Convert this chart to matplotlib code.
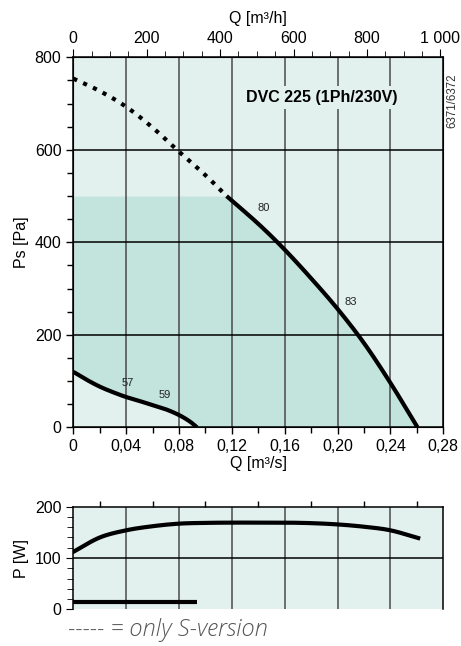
import numpy as np
import matplotlib.pyplot as plt
from matplotlib.ticker import MultipleLocator, FixedLocator

plt.rcParams['font.family'] = ['Liberation Sans', 'DejaVu Sans']

# high speed curve, S-version only part (dotted)
q_dot = [0.0, 0.02, 0.04, 0.06, 0.08, 0.10, 0.116]
ps_dot = [754, 727, 693, 648, 596, 545, 500]
# high speed curve, solid part
q_hi = [0.116, 0.14, 0.16, 0.18, 0.20, 0.22, 0.24, 0.2605]
ps_hi = [500, 440, 384, 322, 256, 182, 96, 0]
# low speed curve
q_lo = [0.0, 0.01, 0.02, 0.03, 0.04, 0.05, 0.06, 0.07, 0.08, 0.088, 0.0936]
ps_lo = [120, 103, 88, 76, 65.5, 57, 48, 39, 26.6, 13, 0]
# power curves
q_p = [0.0, 0.02, 0.04, 0.06, 0.08, 0.10, 0.12, 0.14, 0.16, 0.18, 0.20, 0.22, 0.24, 0.261]
p_hi = [112, 140, 154, 162, 167, 168.5, 169, 169, 169, 168, 165.5, 161, 154, 139]
q_p_lo = [0.0, 0.0936]
p_lo = [15, 15]

labels = ['57', '59', '80', '83']
label_q = [0.041, 0.069, 0.144, 0.210]
label_ps = [96, 70, 474, 271]

bg = '#e2f1ee'
shade = '#c3e3dd'


def smooth(x, y, n=20):
    # Catmull-Rom through the read points, only for a smooth drawn line
    x = np.asarray(x, float)
    y = np.asarray(y, float)
    px = np.concatenate([[2 * x[0] - x[1]], x, [2 * x[-1] - x[-2]]])
    py = np.concatenate([[2 * y[0] - y[1]], y, [2 * y[-1] - y[-2]]])
    ox, oy = [], []
    t = np.linspace(0, 1, n, endpoint=False)
    for i in range(1, len(px) - 2):
        for arr, out in ((px, ox), (py, oy)):
            p0, p1, p2, p3 = arr[i - 1], arr[i], arr[i + 1], arr[i + 2]
            out.extend(0.5 * (2 * p1 + (-p0 + p2) * t
                              + (2 * p0 - 5 * p1 + 4 * p2 - p3) * t ** 2
                              + (-p0 + 3 * p1 - 3 * p2 + p3) * t ** 3))
    ox.append(x[-1])
    oy.append(y[-1])
    return np.array(ox), np.array(oy)


fig = plt.figure(figsize=(4.61, 6.46), dpi=100)
ax = fig.add_axes([0.159, 0.3385, 0.8026, 0.5728])
ax.set_facecolor(bg)

hx, hy = smooth(q_hi, ps_hi)
lx, ly = smooth(q_lo, ps_lo)
dx, dy = smooth(q_dot, ps_dot)

# darker working area between low and high curve, capped at 500 Pa
qq = np.linspace(0, q_hi[-1], 400)
upper = np.minimum(np.interp(qq, hx, hy, left=500), 500)
lower = np.interp(qq, lx, ly, right=0)
ax.fill_between(qq, lower, upper, color=shade, lw=0, zorder=1)

ax.set_xlim(0, 0.28)
ax.set_ylim(0, 800)
for x in np.arange(0.04, 0.28, 0.04):
    ax.axvline(x, color='#4a4a4a', lw=1.1, zorder=2)
for y in [200, 400, 600]:
    ax.axhline(y, color='black', lw=1.1, zorder=2)

ax.plot(dx, dy, color='black', lw=3, ls=(0, (1, 1.6)), zorder=4)
ax.plot(hx, hy, color='black', lw=3, zorder=4, solid_capstyle='butt')
ax.plot(lx, ly, color='black', lw=3, zorder=4, solid_capstyle='butt')

for t, x, y in zip(labels, label_q, label_ps):
    ax.text(x, y, t, fontsize=8, ha='center', va='center', zorder=5,
            color='#222222')

ax.text(0.188, 713, 'DVC 225 (1Ph/230V)', fontsize=11.5, fontweight='bold',
        ha='center', va='center', zorder=5,
        bbox=dict(facecolor=bg, edgecolor='none', pad=3))

ax.xaxis.set_major_locator(MultipleLocator(0.04))
ax.xaxis.set_minor_locator(MultipleLocator(0.02))
ax.yaxis.set_major_locator(MultipleLocator(200))
ax.yaxis.set_minor_locator(MultipleLocator(50))
ax.set_xticklabels([('%.2f' % v).replace('.', ',') if v > 0 else '0'
                    for v in ax.get_xticks()])
ax.tick_params(axis='both', which='major', length=5, labelsize=11.5, width=1)
ax.tick_params(axis='both', which='minor', length=4, width=1)
ax.set_xlabel('Q [m³/s]', fontsize=11.5, labelpad=1)
ax.set_ylabel('Ps [Pa]', fontsize=11.5, labelpad=4)
for s in ax.spines.values():
    s.set_linewidth(1.1)
    s.set_zorder(6)

top = ax.twiny()
top.set_xlim(0, 0.28 * 3600)
top.xaxis.set_major_locator(FixedLocator([0, 200, 400, 600, 800, 1000]))
top.xaxis.set_minor_locator(MultipleLocator(50))
top.set_xticklabels(['0', '200', '400', '600', '800', '1 000'])
top.tick_params(axis='x', which='major', length=6, labelsize=11.5, pad=2)
top.tick_params(axis='x', which='minor', length=4)
top.set_xlabel('Q [m³/h]', fontsize=11.5, labelpad=6)

fig.text(0.9816, 0.844, '6371/6372', rotation=90, fontsize=8.3,
         ha='center', va='center', color='#333333')

# power chart
axp = fig.add_axes([0.159, 0.0568, 0.8026, 0.1588])
axp.set_facecolor(bg)
axp.set_xlim(0, 0.28)
axp.set_ylim(0, 200)
for x in np.arange(0.04, 0.28, 0.04):
    axp.axvline(x, color='#4a4a4a', lw=1.1, zorder=2)
axp.axhline(100, color='black', lw=1.1, zorder=2)
px_, py_ = smooth(q_p, p_hi)
axp.plot(px_, py_, color='black', lw=3, zorder=4)
axp.plot(q_p_lo, p_lo, color='black', lw=3, zorder=4, solid_capstyle='butt')
axp.yaxis.set_major_locator(MultipleLocator(100))
axp.yaxis.set_minor_locator(MultipleLocator(20))
axp.xaxis.set_ticks_position('top')
axp.xaxis.set_major_locator(MultipleLocator(0.04))
axp.xaxis.set_minor_locator(MultipleLocator(0.02))
axp.tick_params(axis='x', which='both', labeltop=False, labelbottom=False,
                direction='out', width=1)
axp.tick_params(axis='x', which='major', length=0)
axp.tick_params(axis='x', which='minor', length=4)
axp.tick_params(axis='y', which='major', length=5, labelsize=11.5)
axp.tick_params(axis='y', which='minor', length=4)
axp.set_ylabel('P [W]', fontsize=11.5, labelpad=4)
axp.spines['bottom'].set_visible(False)
for s in axp.spines.values():
    s.set_linewidth(1.1)

fig.text(0.148, 0.025, '----- = only S-version', fontsize=17, style='italic',
         fontweight='light', family=['Open Sans', 'DejaVu Sans'],
         color='#555555', va='center')

fig.savefig('out.png', dpi=100)
